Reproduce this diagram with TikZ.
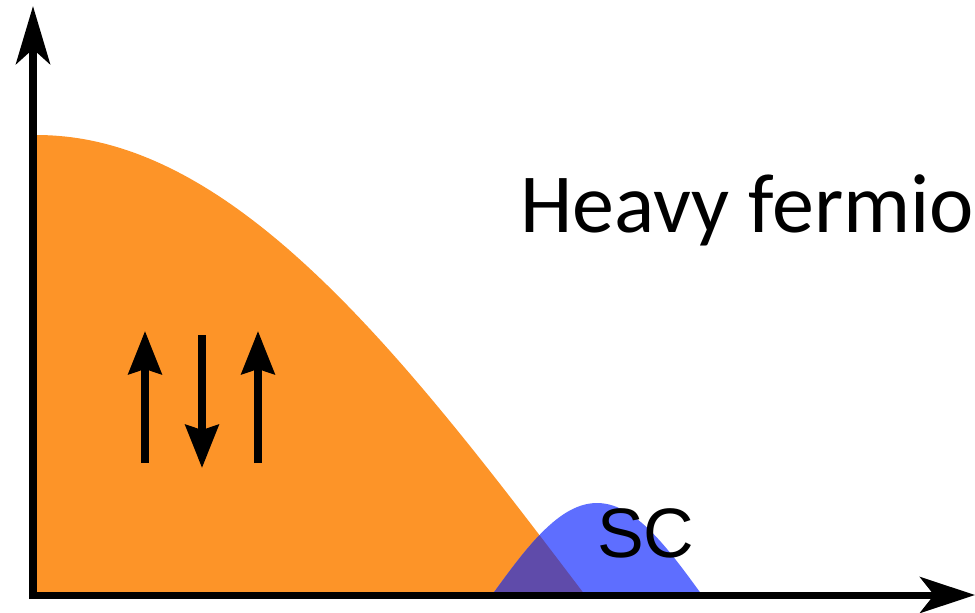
\documentclass[tikz,border=0pt]{standalone}
\usepackage{fontspec}
\newfontfamily\calib{Carlito}
\newfontfamily\arialf{Liberation Sans}
\usetikzlibrary{arrows.meta}
\definecolor{afmorange}{RGB}{253,148,40}
\definecolor{scblue}{RGB}{94,110,255}
\definecolor{overlap}{RGB}{95,75,170}
\tikzset{
  axisline/.style={line width=7pt,-{Stealth[length=55pt,width=36pt,inset=14pt]}},
  spinarrow/.style={line width=7.5pt,-{Stealth[length=43pt,width=33pt,inset=5pt]}},
  lbl/.style={inner sep=0pt,anchor=base west}
}
\begin{document}
\begin{tikzpicture}[x=1pt,y=-1pt]
\useasboundingbox (0,0) rectangle (975,613);
% AFM dome
\fill[afmorange] (37,595) -- plot[domain=0:1,samples=80,variable=\t] ({37+548*\t},{135+460*(1-cos(90*\t))}) -- cycle;
% SC dome
\fill[scblue] (492,595) -- plot[domain=-1:1,samples=60,variable=\t] ({597+105*\t},{595-92*cos(90*\t)}) -- cycle;
% overlap
\begin{scope}
\clip (37,595) -- plot[domain=0:1,samples=80,variable=\t] ({37+548*\t},{135+460*(1-cos(90*\t))}) -- cycle;
\fill[overlap] (492,595) -- plot[domain=-1:1,samples=60,variable=\t] ({597+105*\t},{595-92*cos(90*\t)}) -- cycle;
\end{scope}
% axes
\coordinate (origin) at (33,599);
\coordinate (ytip) at (33,6);
\coordinate (xorigin) at (29,595);
\coordinate (xtip) at (975,595);
\draw[axisline,line width=8pt,-{Stealth[length=58pt,width=34pt,inset=15pt]}] (origin) -- (ytip);
\draw[axisline] (xorigin) -- (xtip);
% spins
\coordinate (s1b) at (145,463); \coordinate (s1t) at (145,331);
\coordinate (s2t) at (202,335); \coordinate (s2b) at (202,468);
\coordinate (s3b) at (258,463); \coordinate (s3t) at (258,331);
\draw[spinarrow] (s1b) -- (s1t);
\draw[spinarrow] (s2t) -- (s2b);
\draw[spinarrow] (s3b) -- (s3t);
% labels
\node[lbl,font=\calib\fontsize{84}{84}\selectfont] (hf) at (520,232) {Heavy fermio};
\node[lbl,font=\arialf\fontsize{70}{70}\selectfont] (sc) at (597,557) {SC};
\end{tikzpicture}
\end{document}
